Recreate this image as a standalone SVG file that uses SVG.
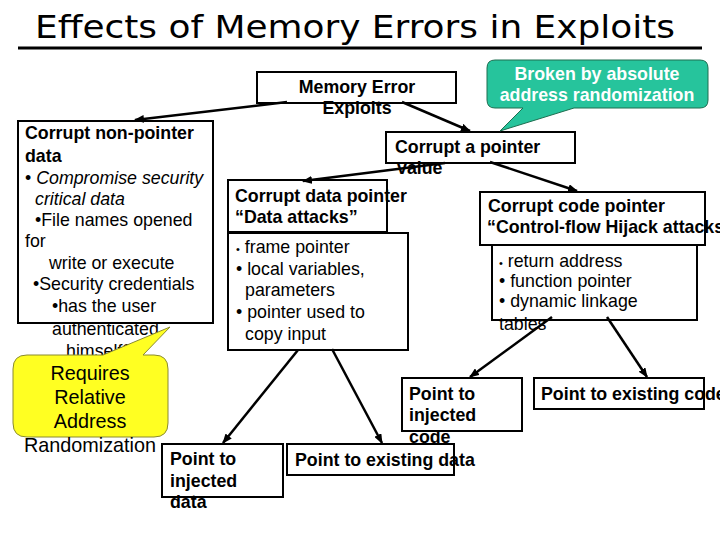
<svg xmlns="http://www.w3.org/2000/svg" width="720" height="540" viewBox="0 0 720 540">
<defs>
<marker id="ah" markerWidth="10" markerHeight="8" refX="9" refY="4" orient="auto" markerUnits="userSpaceOnUse"><path d="M0,0 L10,4 L0,8 Z" fill="#000"/></marker>
<style>
.t{font-family:"Liberation Sans",Arial,sans-serif;font-size:17.8px;fill:#000}
.b{font-weight:bold}
.i{font-style:italic}
.y{font-size:19.8px}
.w{fill:#fff}
.box{fill:none;stroke:#000;stroke-width:2}
.wbox{fill:#fff;stroke:#000;stroke-width:2}
.c{stroke:#000;stroke-width:2.5;fill:none;marker-end:url(#ah)}
</style>
</defs>
<rect width="720" height="540" fill="#fff"/>
<g id="title">
<text x="355" y="38" text-anchor="middle" font-family="DejaVu Sans,Verdana,sans-serif" font-size="32" textLength="640" lengthAdjust="spacingAndGlyphs">Effects of Memory Errors in Exploits</text>
<line x1="18" y1="48" x2="702" y2="48" stroke="#000" stroke-width="3"/>
</g>
<g id="n-root">
<rect class="wbox" x="257" y="72" width="199" height="31"/>
<text class="t b" x="357" y="93" text-anchor="middle">Memory Error</text>
<text class="t b" x="357" y="114" text-anchor="middle">Exploits</text>
</g>
<g id="n-nonptr">
<rect class="box" x="18" y="121" width="195" height="202"/>
<text class="t b" x="25" y="139">Corrupt non-pointer</text>
<text class="t b" x="25" y="162">data</text>
<text class="t" x="25" y="184">• <tspan class="i">Compromise security</tspan></text>
<text class="t i" x="35" y="205">critical data</text>
<text class="t" x="35" y="226">•File names opened</text>
<text class="t" x="25" y="247">for</text>
<text class="t" x="49" y="269">write or execute</text>
<text class="t" x="33" y="290">•Security credentials</text>
<text class="t" x="52" y="312">•has the user</text>
<text class="t" x="52" y="335">authenticated</text>
<text class="t" x="66" y="357">himself?</text>
</g>
<g id="n-ptr">
<rect class="box" x="386" y="132" width="189" height="31"/>
<text class="t b" x="395" y="153">Corrupt a pointer</text>
<text class="t b" x="397" y="174">value</text>
</g>
<g id="n-dataptr">
<rect class="box" x="228" y="180" width="159" height="52"/>
<text class="t b" x="235" y="202">Corrupt data pointer</text>
<text class="t b" x="235" y="223">“Data attacks”</text>
<rect class="box" x="228" y="233" width="180" height="117"/>
<text class="t" x="236" y="253"><tspan font-size="11">•</tspan> frame pointer</text>
<text class="t" x="236" y="275">• local variables,</text>
<text class="t" x="245" y="296">parameters</text>
<text class="t" x="236" y="318">• pointer used to</text>
<text class="t" x="245" y="340">copy input</text>
</g>
<g id="n-codeptr">
<rect class="box" x="480" y="192" width="225" height="53"/>
<text class="t b" x="488" y="212">Corrupt code pointer</text>
<text class="t b" x="487" y="233">“Control-flow Hijack attacks</text>
<rect class="box" x="492" y="245" width="205" height="75"/>
<text class="t" x="499" y="267"><tspan font-size="11">•</tspan> return address</text>
<text class="t" x="499" y="287">• function pointer</text>
<text class="t" x="499" y="307">• dynamic linkage</text>
<text class="t" x="499" y="330">tables</text>
</g>
<g id="n-injdata">
<rect class="box" x="162" y="444" width="121" height="53"/>
<text class="t b" x="170" y="465">Point to</text>
<text class="t b" x="170" y="487">injected</text>
<text class="t b" x="170" y="508">data</text>
</g>
<g id="n-exdata">
<rect class="box" x="287" y="444" width="167" height="31"/>
<text class="t b" x="295" y="466">Point to existing data</text>
</g>
<g id="n-injcode">
<rect class="box" x="402" y="378" width="120" height="53"/>
<text class="t b" x="409" y="400">Point to</text>
<text class="t b" x="409" y="421">injected</text>
<text class="t b" x="409" y="443">code</text>
</g>
<g id="n-excode">
<rect class="box" x="534" y="378" width="170" height="31"/>
<text class="t b" x="541" y="400">Point to existing code</text>
</g>
<g id="connectors">
<line class="c" x1="287" y1="102" x2="135" y2="120"/>
<line class="c" x1="402" y1="102" x2="470" y2="131"/>
<line class="c" x1="445" y1="163" x2="303" y2="181"/>
<line class="c" x1="490" y1="162" x2="577" y2="191"/>
<line class="c" x1="298" y1="350" x2="223" y2="443"/>
<line class="c" x1="332" y1="349" x2="382" y2="443"/>
<line class="c" x1="552" y1="317" x2="470" y2="377"/>
<line class="c" x1="607" y1="317" x2="647" y2="377"/>
</g>
<g id="callout-absolute">
<path d="M495,60 H700 Q708,60 708,68 V100 Q708,108 700,108 H574 L500,131 L523,108 H495 Q487,108 487,100 V68 Q487,60 495,60 Z" fill="#26C49C" stroke="#1E6E50" stroke-width="1"/>
<text class="t b w" x="597" y="80" text-anchor="middle">Broken by absolute</text>
<text class="t b w" x="597" y="101" text-anchor="middle">address randomization</text>
</g>
<g id="callout-relative">
<path d="M27,355 H103 L170,327 L143,355 H154 Q168,355 168,369 V423 Q168,437 154,437 H27 Q13,437 13,423 V369 Q13,355 27,355 Z" fill="#FFFF22" stroke="#8A8A30" stroke-width="1"/>
<text class="t y" x="90" y="380" text-anchor="middle">Requires</text>
<text class="t y" x="90" y="404" text-anchor="middle">Relative</text>
<text class="t y" x="90" y="428" text-anchor="middle">Address</text>
<text class="t y" x="90" y="452" text-anchor="middle">Randomization</text>
</g>
</svg>
